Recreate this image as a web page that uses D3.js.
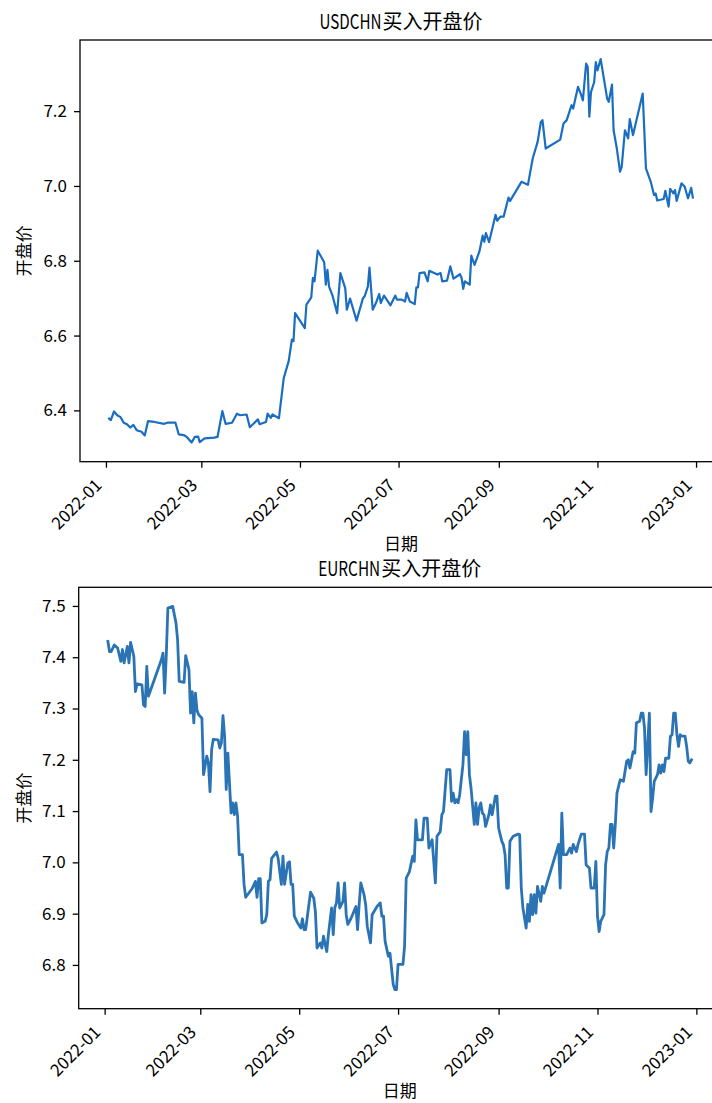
<!DOCTYPE html>
<html><head><meta charset="utf-8">
<script src="https://cdn.jsdelivr.net/npm/d3@7"></script>
<style>body{margin:0;background:#fff} svg{display:block;background:#fff}</style>
</head><body><svg id="c" width="712" height="1103"></svg>
<script>
// ---------- DATA ----------
const usdDates = ["2022-01-03","2022-01-04","2022-01-06","2022-01-08","2022-01-10","2022-01-12","2022-01-14","2022-01-16","2022-01-18","2022-01-20","2022-01-23","2022-01-25","2022-01-27","2022-01-31","2022-02-06","2022-02-08","2022-02-13","2022-02-15","2022-02-18","2022-02-20","2022-02-23","2022-02-25","2022-02-27","2022-02-28","2022-03-03","2022-03-09","2022-03-11","2022-03-14","2022-03-16","2022-03-20","2022-03-23","2022-03-25","2022-03-29","2022-03-31","2022-04-05","2022-04-06","2022-04-10","2022-04-11","2022-04-13","2022-04-14","2022-04-18","2022-04-21","2022-04-24","2022-04-26","2022-04-27","2022-04-28","2022-05-04","2022-05-05","2022-05-08","2022-05-09","2022-05-10","2022-05-12","2022-05-16","2022-05-17","2022-05-18","2022-05-19","2022-05-21","2022-05-24","2022-05-26","2022-05-29","2022-05-30","2022-06-01","2022-06-05","2022-06-09","2022-06-10","2022-06-12","2022-06-13","2022-06-15","2022-06-17","2022-06-19","2022-06-20","2022-06-22","2022-06-26","2022-06-29","2022-06-30","2022-07-03","2022-07-05","2022-07-06","2022-07-08","2022-07-11","2022-07-12","2022-07-13","2022-07-14","2022-07-17","2022-07-19","2022-07-20","2022-07-23","2022-07-25","2022-07-27","2022-07-28","2022-07-31","2022-08-02","2022-08-04","2022-08-08","2022-08-09","2022-08-10","2022-08-11","2022-08-14","2022-08-15","2022-08-17","2022-08-20","2022-08-22","2022-08-23","2022-08-24","2022-08-26","2022-08-30","2022-08-31","2022-09-02","2022-09-04","2022-09-07","2022-09-08","2022-09-15","2022-09-19","2022-09-22","2022-09-25","2022-09-27","2022-09-28","2022-09-30","2022-10-09","2022-10-11","2022-10-13","2022-10-16","2022-10-17","2022-10-20","2022-10-22","2022-10-23","2022-10-25","2022-10-26","2022-10-27","2022-10-28","2022-10-30","2022-10-31","2022-11-01","2022-11-03","2022-11-07","2022-11-08","2022-11-10","2022-11-11","2022-11-13","2022-11-15","2022-11-16","2022-11-18","2022-11-20","2022-11-21","2022-11-23","2022-11-29","2022-12-01","2022-12-04","2022-12-06","2022-12-07","2022-12-08","2022-12-12","2022-12-13","2022-12-15","2022-12-16","2022-12-18","2022-12-19","2022-12-20","2022-12-23","2022-12-25","2022-12-27","2022-12-29","2022-12-30"];
const usdValues = [6.378,6.374,6.397,6.387,6.382,6.367,6.363,6.354,6.361,6.347,6.343,6.333,6.371,6.369,6.364,6.367,6.367,6.336,6.334,6.329,6.314,6.329,6.330,6.315,6.325,6.327,6.329,6.398,6.364,6.367,6.391,6.387,6.389,6.355,6.376,6.363,6.369,6.391,6.380,6.389,6.379,6.487,6.531,6.589,6.585,6.660,6.620,6.683,6.702,6.754,6.745,6.827,6.796,6.736,6.776,6.731,6.709,6.660,6.767,6.727,6.669,6.699,6.640,6.700,6.705,6.731,6.782,6.669,6.687,6.711,6.687,6.707,6.681,6.707,6.696,6.696,6.691,6.714,6.691,6.684,6.729,6.729,6.767,6.769,6.745,6.773,6.767,6.763,6.767,6.745,6.747,6.785,6.752,6.764,6.754,6.725,6.745,6.736,6.814,6.789,6.825,6.867,6.851,6.874,6.850,6.923,6.907,6.918,6.918,6.969,6.960,7.011,7.003,7.074,7.118,7.171,7.176,7.100,7.124,7.167,7.176,7.216,7.207,7.265,7.243,7.229,7.327,7.318,7.185,7.251,7.278,7.331,7.309,7.339,7.234,7.225,7.271,7.149,7.100,7.038,7.051,7.149,7.127,7.179,7.136,7.247,7.047,7.011,6.976,6.980,6.961,6.965,6.987,6.945,6.992,6.980,6.989,6.960,7.007,6.998,6.967,6.995,6.969];

const eurDates = ["2022-01-03","2022-01-04","2022-01-05","2022-01-07","2022-01-09","2022-01-11","2022-01-12","2022-01-13","2022-01-15","2022-01-16","2022-01-17","2022-01-19","2022-01-20","2022-01-21","2022-01-24","2022-01-25","2022-01-26","2022-01-27","2022-01-28","2022-02-05","2022-02-06","2022-02-07","2022-02-08","2022-02-09","2022-02-12","2022-02-14","2022-02-15","2022-02-16","2022-02-19","2022-02-20","2022-02-22","2022-02-23","2022-02-24","2022-02-25","2022-02-26","2022-02-27","2022-02-28","2022-03-02","2022-03-03","2022-03-05","2022-03-06","2022-03-07","2022-03-08","2022-03-09","2022-03-12","2022-03-13","2022-03-14","2022-03-15","2022-03-16","2022-03-17","2022-03-18","2022-03-19","2022-03-20","2022-03-21","2022-03-22","2022-03-23","2022-03-24","2022-03-25","2022-03-27","2022-03-28","2022-03-29","2022-04-02","2022-04-04","2022-04-05","2022-04-06","2022-04-07","2022-04-08","2022-04-10","2022-04-11","2022-04-12","2022-04-13","2022-04-14","2022-04-17","2022-04-18","2022-04-20","2022-04-21","2022-04-22","2022-04-24","2022-04-25","2022-04-26","2022-04-27","2022-04-28","2022-04-30","2022-05-02","2022-05-03","2022-05-04","2022-05-05","2022-05-08","2022-05-10","2022-05-11","2022-05-12","2022-05-14","2022-05-15","2022-05-16","2022-05-18","2022-05-19","2022-05-21","2022-05-22","2022-05-23","2022-05-24","2022-05-25","2022-05-26","2022-05-28","2022-05-29","2022-05-30","2022-05-31","2022-06-02","2022-06-05","2022-06-06","2022-06-07","2022-06-08","2022-06-10","2022-06-11","2022-06-12","2022-06-14","2022-06-15","2022-06-18","2022-06-20","2022-06-21","2022-06-22","2022-06-23","2022-06-25","2022-06-26","2022-06-28","2022-06-29","2022-06-30","2022-07-01","2022-07-03","2022-07-04","2022-07-05","2022-07-06","2022-07-08","2022-07-10","2022-07-11","2022-07-12","2022-07-13","2022-07-16","2022-07-17","2022-07-19","2022-07-20","2022-07-22","2022-07-24","2022-07-25","2022-07-27","2022-07-28","2022-07-29","2022-07-31","2022-08-02","2022-08-03","2022-08-04","2022-08-05","2022-08-06","2022-08-07","2022-08-08","2022-08-10","2022-08-11","2022-08-12","2022-08-13","2022-08-14","2022-08-15","2022-08-17","2022-08-18","2022-08-19","2022-08-20","2022-08-21","2022-08-22","2022-08-23","2022-08-24","2022-08-26","2022-08-27","2022-08-28","2022-08-30","2022-08-31","2022-09-01","2022-09-03","2022-09-04","2022-09-05","2022-09-06","2022-09-07","2022-09-08","2022-09-10","2022-09-13","2022-09-14","2022-09-15","2022-09-16","2022-09-18","2022-09-19","2022-09-20","2022-09-21","2022-09-22","2022-09-23","2022-09-24","2022-09-25","2022-09-27","2022-09-28","2022-09-29","2022-10-08","2022-10-09","2022-10-10","2022-10-11","2022-10-13","2022-10-15","2022-10-16","2022-10-17","2022-10-19","2022-10-20","2022-10-22","2022-10-24","2022-10-25","2022-10-27","2022-10-28","2022-10-30","2022-10-31","2022-11-01","2022-11-02","2022-11-03","2022-11-05","2022-11-06","2022-11-07","2022-11-08","2022-11-09","2022-11-10","2022-11-11","2022-11-12","2022-11-13","2022-11-15","2022-11-17","2022-11-19","2022-11-20","2022-11-21","2022-11-23","2022-11-24","2022-11-25","2022-11-27","2022-11-28","2022-11-29","2022-11-30","2022-12-01","2022-12-02","2022-12-03","2022-12-04","2022-12-05","2022-12-06","2022-12-08","2022-12-09","2022-12-10","2022-12-11","2022-12-12","2022-12-13","2022-12-15","2022-12-16","2022-12-17","2022-12-18","2022-12-19","2022-12-20","2022-12-21","2022-12-22","2022-12-23","2022-12-25","2022-12-26","2022-12-27","2022-12-28","2022-12-29"];
const eurValues = [7.431,7.411,7.411,7.424,7.418,7.392,7.415,7.389,7.421,7.389,7.429,7.402,7.333,7.348,7.346,7.307,7.304,7.382,7.324,7.395,7.408,7.330,7.402,7.496,7.499,7.467,7.434,7.353,7.351,7.403,7.376,7.291,7.333,7.272,7.330,7.296,7.288,7.281,7.171,7.207,7.194,7.138,7.220,7.240,7.239,7.223,7.233,7.286,7.246,7.142,7.213,7.155,7.096,7.116,7.093,7.116,7.090,7.015,7.015,6.957,6.932,6.949,6.963,6.932,6.968,6.968,6.882,6.885,6.898,6.963,6.966,7.008,7.020,7.008,6.957,7.012,6.957,6.999,7.001,6.957,6.957,6.895,6.882,6.872,6.890,6.869,6.869,6.942,6.930,6.904,6.833,6.843,6.833,6.856,6.826,6.859,6.911,6.859,6.912,6.921,6.960,6.911,6.924,6.960,6.898,6.879,6.891,6.914,6.869,6.918,6.960,6.937,6.918,6.875,6.843,6.898,6.914,6.921,6.895,6.895,6.846,6.817,6.823,6.762,6.752,6.752,6.801,6.801,6.801,6.836,6.969,6.982,7.012,7.002,7.083,7.044,7.044,7.086,7.086,7.028,7.044,6.960,7.051,7.060,7.093,7.099,7.181,7.181,7.119,7.135,7.116,7.122,7.116,7.132,7.190,7.255,7.210,7.255,7.171,7.145,7.074,7.116,7.074,7.106,7.116,7.096,7.093,7.070,7.093,7.112,7.093,7.129,7.129,7.067,7.041,7.034,7.015,6.950,6.950,7.041,7.051,7.055,7.054,6.950,6.911,6.872,6.918,6.885,6.937,6.898,6.937,6.901,6.953,6.924,6.953,6.940,7.035,6.950,7.096,7.015,7.015,7.028,7.018,7.035,7.021,7.035,7.055,7.055,6.995,6.989,6.950,6.950,7.002,6.895,6.865,6.885,6.898,6.995,7.021,7.028,7.074,7.074,7.028,7.074,7.135,7.161,7.158,7.197,7.200,7.184,7.216,7.213,7.272,7.275,7.291,7.291,7.262,7.171,7.230,7.291,7.099,7.125,7.158,7.171,7.190,7.174,7.190,7.177,7.203,7.203,7.246,7.249,7.291,7.291,7.249,7.226,7.249,7.246,7.246,7.226,7.197,7.194,7.200];

const usdYTicks = [6.4, 6.6, 6.8, 7.0, 7.2];
const eurYTicks = [6.8, 6.9, 7.0, 7.1, 7.2, 7.3, 7.4, 7.5];
const xTickLabels = ["2022-01","2022-03","2022-05","2022-07","2022-09","2022-11","2023-01"];
const usdTitle = ["USDCHN", "买入开盘价"];
const eurTitle = ["EURCHN", "买入开盘价"];
const xLabel = "日期";
const yLabel = "开盘价";

// ---------- DRAW ----------
const svg = d3.select("#c");
const FONT = "'Noto Sans CJK SC', 'Noto Sans', sans-serif";
const parseDay = d3.timeParse("%Y-%m-%d");
const parseMonth = d3.timeParse("%Y-%m");

function panel(dates, values, yTicks, title, box, color, lw, id) {
  const pts = dates.map((d, i) => ({ d: parseDay(d), v: values[i] }));
  const [dmin, dmax] = d3.extent(pts, p => p.d);
  const span = dmax - dmin;
  const x = d3.scaleTime()
    .domain([new Date(+dmin - 0.05 * span), new Date(+dmax + 0.05 * span)])
    .range([box.l, box.r]);
  const [vmin, vmax] = d3.extent(values);
  const vs = vmax - vmin;
  const y = d3.scaleLinear().domain([vmin - 0.05 * vs, vmax + 0.05 * vs]).range([box.b, box.t]);

  const g = svg.append("g");
  g.append("clipPath").attr("id", id).append("rect")
    .attr("x", box.l).attr("y", box.t).attr("width", box.r - box.l).attr("height", box.b - box.t);

  const line = d3.line().x(p => x(p.d)).y(p => y(p.v));
  g.append("path").datum(pts).attr("d", line)
    .attr("clip-path", `url(#${id})`)
    .attr("fill", "none").attr("stroke", color).attr("stroke-width", lw)
    .attr("stroke-linejoin", "round").attr("stroke-linecap", "square");

  // x axis
  const xa = g.append("g").attr("transform", `translate(0,${box.b})`)
    .call(d3.axisBottom(x).tickValues(xTickLabels.map(parseMonth))
      .tickFormat(d3.timeFormat("%Y-%m")).tickSize(6).tickSizeOuter(0));
  xa.select(".domain").remove();
  xa.selectAll(".tick line").attr("stroke", "#000").attr("stroke-width", 1.3);
  xa.selectAll(".tick text")
    .attr("x", 0).attr("y", 0).attr("dy", null)
    .attr("text-anchor", "end")
    .attr("transform", "translate(-3.5,24.5) rotate(-45)")
    .attr("fill", "#000").style("font-family", FONT).style("font-size", "17px");

  // y axis
  const ya = g.append("g").attr("transform", `translate(${box.l},0)`)
    .call(d3.axisLeft(y).tickValues(yTicks).tickFormat(d3.format(".1f")).tickSize(6).tickPadding(7).tickSizeOuter(0));
  ya.select(".domain").remove();
  ya.selectAll(".tick line").attr("stroke", "#000").attr("stroke-width", 1.3);
  ya.selectAll(".tick text").attr("fill", "#000").style("font-family", FONT).style("font-size", "17px");

  // spines
  g.append("rect").attr("x", box.l).attr("y", box.t)
    .attr("width", box.r - box.l).attr("height", box.b - box.t)
    .attr("fill", "none").attr("stroke", "#000").attr("stroke-width", 1.3);

  // title: condensed Latin part + CJK part, centred over the axes
  const cx = (box.l + box.r) / 2;
  const tb = box.t - 11;
  const cjk = g.append("text").text(title[1]).attr("y", tb)
    .style("font-family", FONT).style("font-size", "20px").attr("fill", "#000");
  const latin = g.append("text").text(title[0]).attr("x", 0).attr("y", 0)
    .style("font-family", FONT).style("font-size", "20px").attr("fill", "#000");
  const latinW = 62;
  const natural = latin.node().getComputedTextLength();
  const cjkW = cjk.node().getComputedTextLength();
  const start = cx - (latinW + 1 + cjkW) / 2;
  latin.attr("transform", `translate(${start},${tb}) scale(${latinW / natural},1)`);
  cjk.attr("x", start + latinW + 1);

  // axis labels
  g.append("text").text(xLabel).attr("x", cx).attr("y", box.b + 88)
    .attr("text-anchor", "middle").style("font-family", FONT).style("font-size", "17px").attr("fill", "#000");
  g.append("text").text(yLabel)
    .attr("transform", `translate(30,${(box.t + box.b) / 2}) rotate(-90)`)
    .attr("text-anchor", "middle").style("font-family", FONT).style("font-size", "17px").attr("fill", "#000");
}

panel(usdDates, usdValues, usdYTicks, usdTitle, { l: 80, r: 722, t: 40, b: 461.7 }, "#1a6ec2", 2.2, "clipTop");
panel(eurDates, eurValues, eurYTicks, eurTitle, { l: 78.7, r: 720.7, t: 587.3, b: 1008.7 }, "#2a73b5", 2.8, "clipBot");
</script>
</body></html>
